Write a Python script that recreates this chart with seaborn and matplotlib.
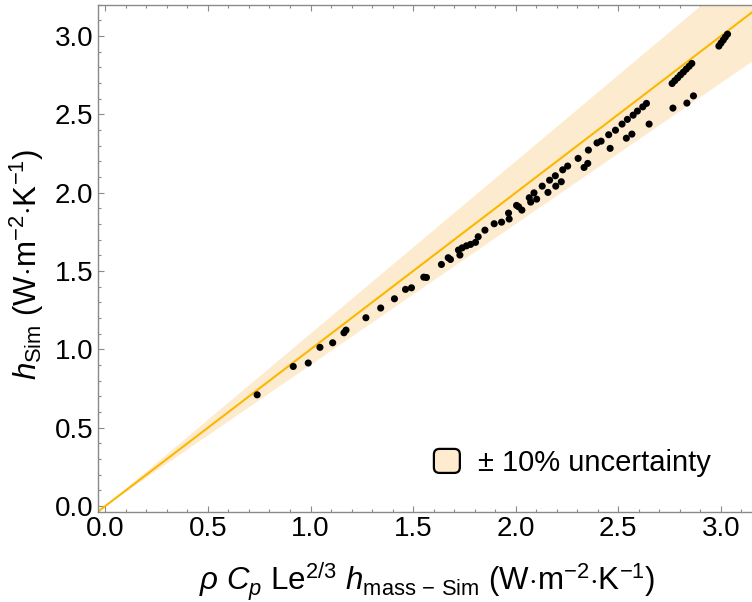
import matplotlib
matplotlib.use("Agg")
import matplotlib.pyplot as plt
import numpy as np
import pandas as pd
import seaborn as sns
from matplotlib.patches import FancyBboxPatch, Patch
from matplotlib.legend_handler import HandlerPatch
from matplotlib.ticker import MultipleLocator, FormatStrFormatter

# Mass-transfer-derived coefficient vs. simulated heat-transfer coefficient
h_mass_scaled = [
    0.740, 0.916, 0.989, 1.046, 1.108, 1.163, 1.173, 1.270, 1.342, 1.409,
    1.463, 1.492, 1.552, 1.565, 1.638, 1.671, 1.682, 1.721, 1.728, 1.739,
    1.760, 1.780, 1.804, 1.817, 1.850, 1.895, 1.931, 1.965, 1.968, 2.004,
    2.014, 2.030, 2.066, 2.073, 2.089, 2.102, 2.129, 2.157, 2.165, 2.193,
    2.195, 2.222, 2.229, 2.253, 2.304, 2.333, 2.351, 2.354, 2.396, 2.416,
    2.453, 2.460, 2.486, 2.518, 2.539, 2.544, 2.566, 2.572, 2.593, 2.619,
    2.637, 2.650, 2.766, 2.834, 2.866,
    2.762, 2.775, 2.789, 2.803, 2.817, 2.831, 2.845, 2.858,
    2.990, 3.000, 3.011, 3.021, 3.032,
]
h_sim = [
    0.710, 0.891, 0.913, 1.013, 1.042, 1.106, 1.123, 1.202, 1.264, 1.323,
    1.383, 1.393, 1.461, 1.459, 1.542, 1.585, 1.574, 1.634, 1.602, 1.648,
    1.661, 1.670, 1.683, 1.719, 1.761, 1.802, 1.812, 1.870, 1.832, 1.919,
    1.910, 1.889, 1.968, 1.940, 1.999, 1.959, 2.042, 2.002, 2.080, 2.108,
    2.042, 2.070, 2.146, 2.170, 2.219, 2.161, 2.187, 2.272, 2.318, 2.329,
    2.370, 2.283, 2.399, 2.438, 2.348, 2.468, 2.374, 2.495, 2.521, 2.548,
    2.570, 2.438, 2.540, 2.572, 2.618,
    2.697, 2.715, 2.733, 2.752, 2.770, 2.789, 2.807, 2.825,
    2.936, 2.955, 2.974, 2.993, 3.012,
]
uncertainty = 0.10
legend_label = "± 10% uncertainty"

LINE = "#FBB800"
BAND = "#FDEBD0"
FRAME = "#8a8a8a"

sns.set_style("ticks")
plt.rcParams["font.family"] = ["Liberation Sans", "DejaVu Sans"]
plt.rcParams["mathtext.fontset"] = "custom"
plt.rcParams["mathtext.rm"] = "Liberation Sans"
plt.rcParams["mathtext.it"] = "Liberation Sans:italic"
plt.rcParams["mathtext.bf"] = "Liberation Sans:bold"
plt.rcParams["text.color"] = "black"
plt.rcParams["axes.labelcolor"] = "black"

fig = plt.figure(figsize=(7.52, 6.02), dpi=100)
ax = fig.add_axes([0.1299, 0.1500, 0.8834, 0.8422])

df = pd.DataFrame({"x": h_mass_scaled, "y": h_sim})

# y = x reference with the +/-10 % band
ref = np.array([-0.1, 3.4])
ax.fill_between(ref, ref * (1 - uncertainty), ref * (1 + uncertainty),
                color=BAND, lw=0, zorder=1)
ax.plot(ref, ref, color=LINE, lw=1.5, zorder=2)

sns.scatterplot(data=df, x="x", y="y", ax=ax, color="black", s=26,
                edgecolor="none", linewidth=0, zorder=3, legend=False)

ax.set_xlim(-0.037, 3.2)
ax.set_ylim(-0.036, 3.2)

ax.xaxis.set_major_locator(MultipleLocator(0.5))
ax.xaxis.set_minor_locator(MultipleLocator(0.1))
ax.yaxis.set_major_locator(MultipleLocator(0.5))
ax.yaxis.set_minor_locator(MultipleLocator(0.1))
ax.xaxis.set_major_formatter(FormatStrFormatter("%.1f"))
ax.yaxis.set_major_formatter(FormatStrFormatter("%.1f"))

ax.tick_params(which="both", direction="in", top=True, right=True,
               color=FRAME, width=0.8, labelsize=20, labelcolor="black")
ax.tick_params(which="major", length=4, pad=3)
ax.tick_params(which="minor", length=2.2)
for sp in ax.spines.values():
    sp.set_color(FRAME)
    sp.set_linewidth(1.0)

ax.set_xlabel(r"$\rho\ C_p\ \mathrm{Le}^{2/3}\ h_{\mathrm{mass\,-\,Sim}}\ "
              r"(\mathrm{W{\cdot}m^{-2}{\cdot}K^{-1}})$", fontsize=22.5,
              color="black")
ax.set_ylabel(r"$h_{\mathrm{Sim}}\ (\mathrm{W{\cdot}m^{-2}{\cdot}K^{-1}})$",
              fontsize=22.5, color="black")
ax.xaxis.set_label_coords(0.496, -0.097)
ax.yaxis.set_label_coords(-0.078, 0.487)
ax.grid(False)


def rounded_handle(legend, orig_handle, xdescent, ydescent, width, height, fontsize):
    return FancyBboxPatch((-xdescent, -ydescent), width, height,
                          boxstyle="round,pad=0,rounding_size=4")


handle = Patch(facecolor="#FFEBCD", edgecolor="black", linewidth=1.6)
fig.legend([handle], [legend_label], loc="center left",
           bbox_to_anchor=(0.577, 0.231), frameon=False, fontsize=21,
           labelcolor="black",
           borderpad=0, borderaxespad=0, handlelength=0.89, handleheight=0.89,
           handletextpad=0.62,
           handler_map={Patch: HandlerPatch(patch_func=rounded_handle)})

fig.savefig("out.png", dpi=100)
